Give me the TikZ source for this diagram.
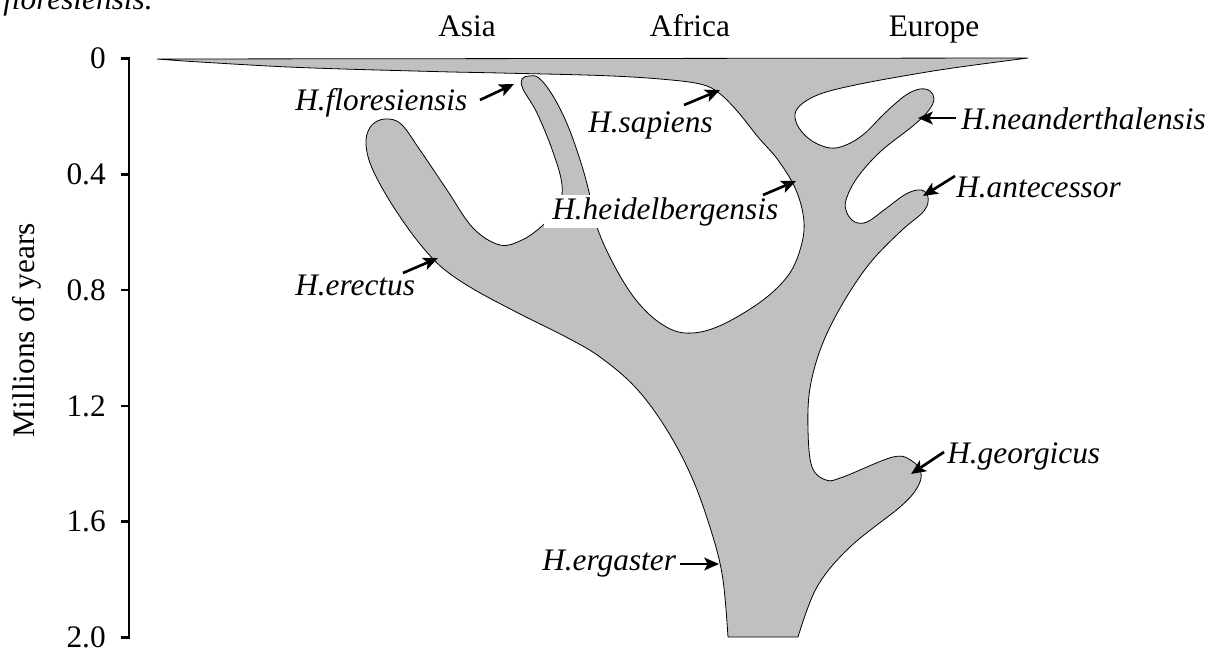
\documentclass[tikz,border=0pt]{standalone}
\usepackage{fontspec}
\setmainfont{Liberation Serif}
\usetikzlibrary{arrows.meta}
\definecolor{shade}{RGB}{192,192,192}
\tikzset{
  lab/.style={font=\fontsize{23.5}{28}\selectfont\itshape, inner sep=0pt},
  hdr/.style={font=\fontsize{23.5}{28}\selectfont, inner sep=0pt},
  ptr/.style={line width=2pt, -{Stealth[length=11pt,width=9.5pt,inset=2.5pt]}},
  axisline/.style={line width=1.9pt},
  tree/.style={fill=shade, draw=black, line width=0.6pt, line join=round},
}
\begin{document}
\begin{tikzpicture}[x=0.75pt,y=-0.75pt]
\useasboundingbox (0,0) rectangle (1222,654);
\node[lab,anchor=base west] (cap) at (3,9) {floresiensis.};
% axis
\draw[axisline] (121,58.5) -- (129,58.5) -- (129,637.5) -- (121,637.5);
\foreach \v in {174.3,290.1,405.9,521.7}{
  \draw[axisline] (121,\v) -- (129,\v);
}
\foreach \v/\t/\n in {58.5/0/t0,174.3/0.4/t1,290.1/0.8/t2,405.9/1.2/t3,521.7/1.6/t4,637.5/2.0/t5}{
  \node[hdr,anchor=east] (\n) at (106,\v) {\t};
}
\node[hdr,rotate=90] (ylab) at (27,330) {Millions of years};
% headers
\node[hdr,anchor=base] (asia) at (467,36) {Asia};
\node[hdr,anchor=base] (africa) at (690,36) {Africa};
\node[hdr,anchor=base] (europe) at (934,36) {Europe};
% tree shape
\filldraw[tree]
 (157,59) -- (1028,58)
 -- plot[smooth, tension=0.6] coordinates {(1028,58) (960,67) (915,74) (860,84) (823,93) (803,103) (795,114) (799,128) (812,141) (830,148) (846,145) (864,134) (886,112) (906,95) (920,89) (930,91) (934,99) (929,110) (914,125) (880,152) (857,178) (846,200) (847,213) (855,222) (867,222) (884,210) (906,194) (921,190) (928,197) (924,211) (901,231) (870,263) (843,303) (822,345) (810,388) (808,430) (812,467) (826,480) (843,477) (893,457) (912,461) (921,473) (917,488) (900,507) (850,547) (817,587) (798,637)}
 -- (728,637)
 -- plot[smooth, tension=0.6] coordinates {(728,637) (723,580) (713,537) (693,480) (667,430) (636,388) (600,357) (566,337) (520,314) (475,290) (445,270) (425,250) (405,224) (385,193) (370,163) (366,140) (372,125) (385,119) (401,124) (420,150) (447,190) (473,228) (500,245) (522,240) (542,226) (558,208) (562,185) (553,152) (537,113) (523,89) (522,79) (529,76) (539,78) (553,96) (568,126) (582,166) (591,200) (598,230) (615,267) (636,300) (660,323) (685,333) (717,327) (759,303) (787,277) (800,250) (804,222) (796,190) (778,160) (758,137) (738,112) (719,93) (700,84) (660,79) (600,75.5) (500,73) (433,71.5) (300,67.5) (200,62) (157,59)}
 -- cycle;
% labels
\node[lab,anchor=base west] (flo) at (295,110) {H.floresiensis};
\node[lab,anchor=base west] (sap) at (588,132) {H.sapiens};
\node[lab,anchor=base west,fill=white,inner xsep=6pt,inner ysep=1.5pt] (hei) at (544,219) {H.heidelbergensis};
\node[lab,anchor=base west] (nea) at (961,129) {H.neanderthalensis};
\node[lab,anchor=base west] (ant) at (956,197) {H.antecessor};
\node[lab,anchor=base west] (ere) at (295,295) {H.erectus};
\node[lab,anchor=base west] (geo) at (947,463) {H.georgicus};
\node[lab,anchor=base west] (erg) at (542,570) {H.ergaster};
% arrow endpoints
\coordinate (flo-s) at (480,100); \coordinate (flo-e) at (514,84);
\coordinate (sap-s) at (684,105); \coordinate (sap-e) at (720,90);
\coordinate (hei-s) at (763,195); \coordinate (hei-e) at (796,181);
\coordinate (nea-s) at (956,118); \coordinate (nea-e) at (918,118);
\coordinate (ant-s) at (955,176); \coordinate (ant-e) at (923,196);
\coordinate (ere-s) at (403,273); \coordinate (ere-e) at (438,258);
\coordinate (geo-s) at (944,452); \coordinate (geo-e) at (911,474);
\coordinate (erg-s) at (680,564); \coordinate (erg-e) at (719,564);
\foreach \a in {flo,sap,hei,nea,ant,ere,geo,erg}{
  \draw[ptr] (\a-s) -- (\a-e);
}
\end{tikzpicture}
\end{document}
